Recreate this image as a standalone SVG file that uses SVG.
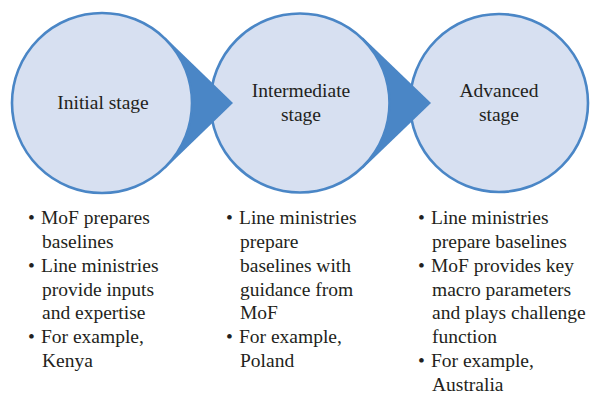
<svg xmlns="http://www.w3.org/2000/svg" width="594" height="396" viewBox="0 0 594 396">
  <style>
    .stage { fill: #D7E0F1; stroke: #4A86C6; stroke-width: 2.6; }
    .arrow { fill: #4A86C6; }
    .label { font-size: 19.5px; fill: #231F20; text-anchor: middle; }
    .list { font-size: 19.5px; fill: #231F20; }
  </style>
  <rect width="594" height="396" fill="#FFFFFF"/>

  <!-- drawn right to left so each arrow sits behind its source circle and over its target -->
  <g id="advanced" font-family="Liberation Serif, Times New Roman, serif">
    <circle class="stage" cx="499" cy="103" r="89"/>
    <text class="label" x="499" y="97">Advanced</text>
    <text class="label" x="499" y="121">stage</text>
  </g>

  <g id="connectors-2">
    <polygon class="arrow" points="431,103 362.9,37.6 320,103 362.9,168.4"/>
  </g>

  <g id="intermediate" font-family="Liberation Serif, Times New Roman, serif">
    <circle class="stage" cx="300" cy="103" r="89.5"/>
    <text class="label" x="301" y="97">Intermediate</text>
    <text class="label" x="301" y="121">stage</text>
  </g>

  <g id="connectors-1">
    <polygon class="arrow" points="233,103 165.3,37.5 122,103 165.3,168.5"/>
  </g>

  <g id="initial" font-family="Liberation Serif, Times New Roman, serif">
    <circle class="stage" cx="102" cy="103" r="90"/>
    <text class="label" x="103" y="109">Initial stage</text>
  </g>

  <!-- bullet lists under each stage -->
  <g id="list-initial" class="list" font-family="Liberation Serif, Times New Roman, serif">
    <text x="28" y="224">•</text>
    <text x="41" y="224">MoF prepares</text>
    <text x="42" y="248">baselines</text>
    <text x="28" y="272">•</text>
    <text x="41" y="272">Line ministries</text>
    <text x="42" y="295.5">provide inputs</text>
    <text x="42" y="319">and expertise</text>
    <text x="28" y="343">•</text>
    <text x="41" y="343">For example,</text>
    <text x="42" y="367">Kenya</text>
  </g>

  <g id="list-intermediate" class="list" font-family="Liberation Serif, Times New Roman, serif">
    <text x="226" y="224">•</text>
    <text x="239" y="224">Line ministries</text>
    <text x="240" y="248">prepare</text>
    <text x="240" y="272">baselines with</text>
    <text x="240" y="295.5">guidance from</text>
    <text x="240" y="319">MoF</text>
    <text x="226" y="343">•</text>
    <text x="239" y="343">For example,</text>
    <text x="240" y="367">Poland</text>
  </g>

  <g id="list-advanced" class="list" font-family="Liberation Serif, Times New Roman, serif">
    <text x="418" y="224">•</text>
    <text x="431" y="224">Line ministries</text>
    <text x="432" y="248">prepare baselines</text>
    <text x="418" y="272">•</text>
    <text x="431" y="272">MoF provides key</text>
    <text x="432" y="295.5">macro parameters</text>
    <text x="432" y="319">and plays challenge</text>
    <text x="432" y="343">function</text>
    <text x="418" y="367">•</text>
    <text x="431" y="367">For example,</text>
    <text x="432" y="390.5">Australia</text>
  </g>
</svg>
